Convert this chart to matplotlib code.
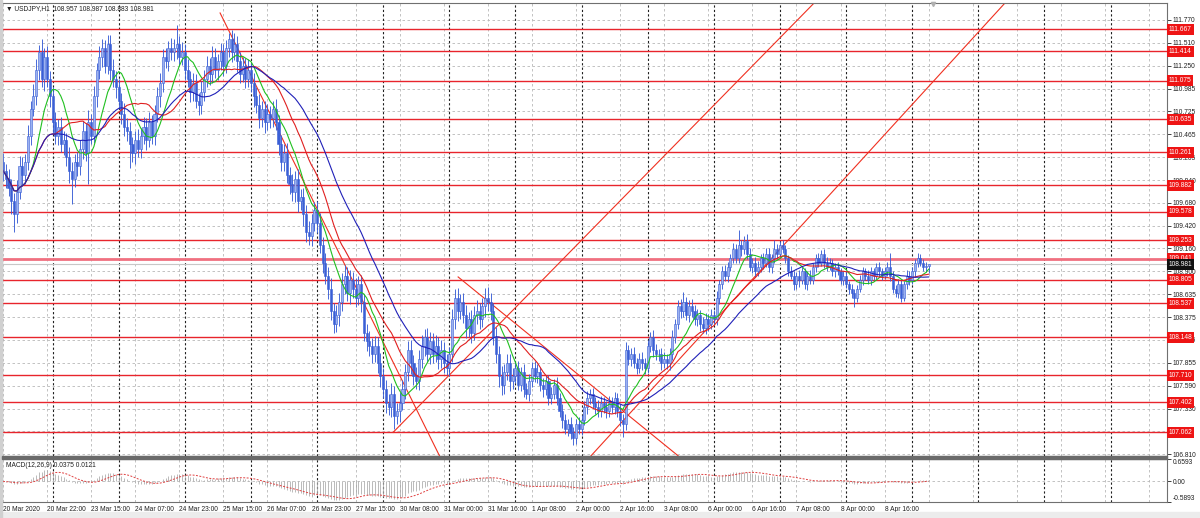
import numpy as np
import pandas as pd
import matplotlib
matplotlib.use("Agg")
import matplotlib.pyplot as plt

plt.rcParams['font.family'] = ['Liberation Sans', 'DejaVu Sans']

# hourly closes, one list per trading day
closes_mar20 = [110.05, 109.95, 109.85, 109.70, 109.55, 109.80, 110.10, 110.00, 110.15,
                110.45, 110.75, 110.90, 111.20, 111.40, 111.10, 111.35, 111.10, 110.90]
closes_mar23 = [110.60, 110.45, 110.55, 110.35, 110.40, 110.20, 110.05, 109.95, 110.15, 110.10,
                110.30, 110.50, 110.25, 110.60, 110.45, 110.90, 111.20, 111.35,
                111.45, 111.25, 111.50, 111.20, 111.10, 111.00]
closes_mar24 = [110.85, 110.70, 110.55, 110.50, 110.35, 110.25, 110.40, 110.30, 110.45,
                110.55, 110.40, 110.60, 110.45, 110.70, 110.90, 111.05, 111.35, 111.30, 111.45,
                111.40, 111.45, 111.50, 111.35, 111.40]
closes_mar25 = [111.20, 111.10, 110.95, 111.05, 110.85, 110.80, 110.95, 111.10, 111.25, 111.15,
                111.35, 111.20, 111.30, 111.40, 111.25, 111.45, 111.55, 111.40, 111.50,
                111.30, 111.15, 111.25, 111.10, 111.20]
closes_mar26 = [111.05, 110.90, 110.80, 110.65, 110.75, 110.60, 110.70, 110.65, 110.75, 110.60,
                110.35, 110.15, 110.25, 110.00, 109.90, 109.80, 109.95, 109.70, 109.75,
                109.55, 109.35, 109.30, 109.45, 109.60]
closes_mar27 = [109.45, 109.20, 109.00, 108.85, 108.70, 108.45, 108.30, 108.40, 108.55,
                108.75, 108.85, 108.65, 108.80, 108.70, 108.60, 108.75, 108.55,
                108.20, 108.10, 108.05, 107.95, 108.05, 107.85, 107.70]
closes_mar30 = [107.55, 107.40, 107.35, 107.50, 107.25, 107.30, 107.40, 107.55, 107.75, 108.00,
                107.85, 107.70, 107.65, 107.90, 108.05, 108.15, 107.95, 108.10,
                107.95, 108.05, 107.90, 108.00, 107.85, 107.80]
closes_mar31 = [107.95, 108.35, 108.60, 108.45, 108.55, 108.40, 108.25, 108.35, 108.20, 108.40,
                108.45, 108.35, 108.50, 108.60, 108.55, 108.45, 108.15, 107.95,
                107.70, 107.60, 107.75, 107.85, 107.65, 107.70]
closes_apr01 = [107.80, 107.60, 107.75, 107.55, 107.50, 107.65, 107.80, 107.70, 107.75,
                107.60, 107.55, 107.65, 107.45, 107.50, 107.60, 107.45, 107.30, 107.20,
                107.10, 107.15, 107.05, 107.00, 107.15, 107.10]
closes_apr02 = [107.20, 107.35, 107.45, 107.50, 107.40, 107.35, 107.30, 107.40, 107.35, 107.30,
                107.40, 107.35, 107.45, 107.30, 107.20, 107.15, 108.00,
                107.90, 107.95, 107.85, 107.80, 107.90, 107.85, 107.80]
closes_apr03 = [108.05, 108.15, 108.00, 107.95, 107.95, 107.85, 107.90, 107.85, 107.95,
                108.15, 108.30, 108.50, 108.45, 108.55, 108.40, 108.50, 108.45, 108.35,
                108.40, 108.30, 108.25, 108.35, 108.30, 108.40]
closes_apr06 = [108.35, 108.60, 108.75, 108.90, 108.85, 108.95, 109.05, 109.15, 109.05,
                109.20, 109.15, 109.25, 109.10, 108.95, 109.00, 108.90, 108.95,
                109.05, 109.00, 109.10, 108.95, 109.05, 109.15, 109.10]
closes_apr07 = [109.20, 109.15, 109.05, 108.90, 108.85, 108.75, 108.85, 108.80, 108.90, 108.75,
                108.85, 108.80, 108.95, 109.05, 109.00, 109.10, 109.00,
                108.95, 109.00, 108.90, 108.95, 108.90, 108.80, 108.85]
closes_apr08 = [108.75, 108.70, 108.65, 108.60, 108.70, 108.80, 108.90, 108.85, 108.80,
                108.90, 108.85, 108.95, 108.90, 108.85, 108.90, 108.95, 108.85,
                108.70, 108.65, 108.75, 108.60, 108.75, 108.85, 108.80]
closes_apr09 = [108.90, 109.00, 109.05, 109.00, 108.95, 108.957, 108.981]
first_open = 110.15

# upper / lower shadows in pips (0.01)
wick_up = ([10, 8, 12, 10, 9, 14, 12, 10, 9, 12, 10, 14, 12, 8, 15, 10, 12, 9] +
           [10, 12, 9, 11, 10, 8, 12, 10, 9, 11, 10, 12, 9, 14, 10, 12, 8, 12, 10, 9, 10, 10, 12, 9] +
           [10, 9, 12, 10, 11, 8, 10, 12, 9, 11, 10, 12, 9, 10, 11, 12, 9, 10, 8, 11, 10, 21, 9, 12] +
           [10, 12, 9, 11, 10, 9, 12, 10, 11, 9, 12, 10, 8, 11, 10, 9, 7, 10, 12, 9, 11, 10, 9, 12] +
           [9, 11, 10, 12, 9, 10, 11, 9, 10, 12, 9, 11, 10, 12, 9, 11, 10, 12, 9, 10, 11, 12, 10, 9] +
           [10, 12, 9, 11, 10, 12, 9, 11, 10, 13, 12, 10, 11, 9, 12, 10, 11, 9, 10, 12, 9, 11, 10, 12] +
           [9, 11, 10, 12, 9, 10, 12, 11, 9, 10, 12, 9, 11, 10, 12, 9, 10, 11, 9, 12, 10, 11, 9, 10] +
           [9, 12, 10, 11, 9, 10, 12, 9, 11, 10, 12, 9, 10, 11, 12, 10, 9, 11, 10, 12, 9, 10, 11, 9] +
           [7, 8, 6, 9, 7, 8, 6, 7, 9, 6, 8, 7, 6, 8, 7, 9, 6, 8, 7, 6, 8, 7, 6, 8] +
           [6, 7, 8, 6, 7, 6, 8, 7, 6, 7, 8, 6, 7, 6, 8, 7, 9, 6, 7, 8, 6, 7, 8, 6] +
           [7, 6, 8, 7, 6, 7, 8, 6, 7, 8, 6, 7, 8, 11, 6, 7, 8, 6, 7, 6, 8, 7, 6, 7] +
           [6, 7, 5, 6, 7, 6, 5, 7, 6, 17, 6, 5, 7, 6, 5, 6, 7, 5, 6, 7, 6, 5, 11, 6] +
           [5, 6, 5, 4, 6, 5, 4, 6, 5, 4, 5, 6, 4, 5, 6, 4, 5, 6, 5, 4, 5, 6, 4, 5] +
           [5, 4, 6, 5, 4, 6, 5, 4, 6, 5, 4, 5, 6, 4, 5, 6, 16, 5, 4, 6, 5, 4, 6, 5] +
           [5, 4, 6, 5, 4, 5, 0.6])
wick_dn = ([12, 10, 9, 15, 20, 10, 8, 12, 10, 9, 11, 8, 10, 12, 9, 14, 10, 12] +
           [12, 10, 11, 9, 12, 10, 14, 28, 9, 11, 10, 12, 9, 35, 10, 9, 12, 10, 12, 8, 10, 11, 9, 12] +
           [9, 12, 10, 11, 27, 10, 12, 9, 11, 10, 12, 8, 10, 11, 9, 12, 10, 8, 11, 9, 10, 12, 10, 9] +
           [11, 9, 12, 10, 9, 12, 10, 11, 9, 12, 10, 9, 11, 10, 12, 9, 10, 11, 9, 12, 10, 9, 11, 10] +
           [10, 12, 9, 11, 10, 12, 9, 11, 10, 9, 12, 10, 11, 9, 12, 10, 11, 12, 10, 13, 12, 10, 11, 9] +
           [11, 9, 12, 10, 12, 11, 10, 9, 12, 10, 11, 9, 12, 10, 11, 9, 12, 10, 11, 12, 10, 9, 11, 12] +
           [10, 12, 9, 11, 15, 10, 12, 9, 11, 10, 12, 10, 9, 11, 10, 12, 9, 11, 10, 9, 12, 10, 11, 9] +
           [10, 9, 11, 12, 10, 9, 11, 10, 12, 9, 10, 11, 9, 12, 10, 11, 9, 10, 12, 11, 10, 9, 12, 10] +
           [8, 6, 7, 9, 6, 8, 7, 6, 8, 7, 9, 6, 8, 7, 6, 8, 7, 9, 6, 8, 7, 8, 7, 6] +
           [7, 6, 8, 7, 6, 8, 7, 6, 7, 8, 6, 7, 8, 6, 7, 14, 6, 7, 8, 6, 7, 6, 8, 7] +
           [6, 7, 8, 6, 7, 8, 6, 7, 8, 6, 7, 6, 8, 7, 6, 8, 7, 6, 7, 8, 6, 7, 8, 6] +
           [5, 6, 7, 5, 6, 7, 5, 6, 5, 6, 7, 5, 6, 5, 7, 6, 5, 6, 7, 5, 6, 7, 5, 6] +
           [5, 4, 6, 5, 4, 6, 5, 8, 4, 5, 6, 4, 5, 6, 5, 4, 6, 5, 4, 5, 6, 4, 5, 6] +
           [4, 6, 5, 11, 5, 4, 6, 5, 4, 6, 5, 4, 6, 5, 4, 5, 6, 5, 4, 6, 5, 4, 5, 6] +
           [4, 6, 5, 4, 5, 6, 7.4])

levels = [111.667, 111.414, 111.075, 110.635, 110.261, 109.882, 109.578, 109.253,
          109.041, 108.805, 108.537, 108.148, 107.710, 107.402, 107.062]
last_price = 108.981

price_ticks = [111.770, 111.510, 111.250, 110.985, 110.725, 110.465, 110.205, 109.940,
               109.680, 109.420, 109.160, 108.900, 108.635, 108.375, 108.115, 107.855,
               107.590, 107.330, 107.070, 106.810]
hidden_ticks = [107.070]   # covered by the 107.062 label in the terminal

time_labels = ["20 Mar 2020", "20 Mar 22:00", "23 Mar 15:00", "24 Mar 07:00", "24 Mar 23:00",
               "25 Mar 15:00", "26 Mar 07:00", "26 Mar 23:00", "27 Mar 15:00", "30 Mar 08:00",
               "31 Mar 00:00", "31 Mar 16:00", "1 Apr 08:00", "2 Apr 00:00", "2 Apr 16:00",
               "3 Apr 08:00", "6 Apr 00:00", "6 Apr 16:00", "7 Apr 08:00", "8 Apr 00:00",
               "8 Apr 16:00"]

# trend lines: (bar, price) start and end
trend_lines = [((78.8, 111.85), (175, 105.74)),
               ((141.6, 107.06), (320, 112.785)),
               ((200, 106.33), (380, 112.525)),
               ((165.2, 108.835), (260, 106.41))]

close = np.array(closes_mar20 + closes_mar23 + closes_mar24 + closes_mar25 + closes_mar26 +
                 closes_mar27 + closes_mar30 + closes_mar31 + closes_apr01 + closes_apr02 +
                 closes_apr03 + closes_apr06 + closes_apr07 + closes_apr08 + closes_apr09)
opn = np.r_[first_open, close[:-1]]
high = np.maximum(opn, close) + np.array(wick_up) / 100
low = np.minimum(opn, close) - np.array(wick_dn) / 100
x = np.arange(len(close))

s = pd.Series(close)
ma_fast = s.rolling(10, min_periods=1).mean()
ma_mid = s.rolling(20, min_periods=1).mean()
ma_slow = s.rolling(34, min_periods=1).mean()
macd = s.ewm(span=12, adjust=False).mean() - s.ewm(span=26, adjust=False).mean()
signal = macd.rolling(9, min_periods=1).mean()

W, H = 1200, 518
fig = plt.figure(figsize=(12, 5.18), dpi=100)
fig.patch.set_facecolor('white')

x0, x1 = (2 - 3) / 2.755, (1167 - 3) / 2.755
ax = fig.add_axes([2 / W, 1 - 456 / H, 1165 / W, 453 / H])
ax2 = fig.add_axes([2 / W, 1 - 502 / H, 1165 / W, 43.5 / H])

grid_c = '#b8b8b8'
for a in (ax, ax2):
    a.set_xlim(x0, x1)
    for g in np.arange(0, 430, 16):
        a.axvline(g, color=grid_c, lw=0.6, ls=(0, (3, 3)), zorder=0)
    for d in np.arange(18, 430, 24):
        a.axvline(d, color='#202020', lw=0.8, ls=(0, (2, 2)), zorder=0.5)
    for sp in a.spines.values():
        sp.set_color('#707070')
        sp.set_linewidth(0.8)
    a.set_facecolor('white')

ax.set_ylim(106.790, 111.964)
for p in price_ticks:
    ax.axhline(p, color=grid_c, lw=0.6, ls=(0, (3, 3)), zorder=0)

for lv in levels:
    if lv == 109.041:
        ax.axhline(lv, color='#f07080', lw=2.0, zorder=1)
    else:
        ax.axhline(lv, color='#e8242c', lw=1.0, zorder=1)
ax.axhline(last_price, color='#c8c8c8', lw=0.8, zorder=1)

for (xa, ya), (xb, yb) in trend_lines:
    ax.plot([xa, xb], [ya, yb], color='#f03020', lw=0.8, zorder=2)

ax.plot(x, ma_fast, color='#20c020', lw=0.8, zorder=4)
ax.plot(x, ma_mid, color='#e02020', lw=0.8, zorder=4)
ax.plot(x, ma_slow, color='#2020b8', lw=0.8, zorder=4)

bull = close >= opn
ax.vlines(x, low, high, color='#3a5fd6', lw=0.65, zorder=3)
ax.bar(x, np.maximum(np.abs(close - opn), 0.006), bottom=np.minimum(opn, close), width=0.75,
       color=np.where(bull, '#9cb2f0', '#3a5fd6'), edgecolor='#3a5fd6', linewidth=0.4, zorder=3)

# chart shift marker at the top
ax.plot([337.5], [111.95], marker='v', ms=3, color='#b0b0b0', clip_on=False, zorder=6)

ax.yaxis.tick_right()
ax.set_yticks(price_ticks)
ax.set_yticklabels(["" if p in hidden_ticks else f"{p:.3f}" for p in price_ticks])
ax.tick_params(axis='y', length=3, width=0.6, pad=1, labelsize=4.8, colors='#202020')
ax.set_xticks([])

ytr = ax.get_yaxis_transform()
for lv in levels:
    ax.text(1.0015, lv, f"{lv:.3f}", transform=ytr, color='white', fontsize=4.8,
            va='center', ha='left', zorder=10, clip_on=False,
            bbox=dict(boxstyle='square,pad=0.3', fc='#ee1414', ec='none'))
ax.text(1.0015, last_price, f"{last_price:.3f}", transform=ytr, color='white', fontsize=4.8,
        va='center', ha='left', zorder=11, clip_on=False,
        bbox=dict(boxstyle='square,pad=0.3', fc='#101010', ec='none'))

# MACD panel
ax2.set_ylim(-0.5893, 0.6593)
ax2.axhline(0, color=grid_c, lw=0.6, ls=(0, (3, 3)), zorder=0)
ax2.vlines(x, 0, macd, color='#a8a8a8', lw=0.55, zorder=2)
ax2.plot(x, signal, color='#e04040', lw=0.7, ls=(0, (2, 1.5)), zorder=3)
ax2.yaxis.tick_right()
ax2.set_yticks([0.6593, 0.0, -0.5893])
ax2.set_yticklabels(["0.6593", "0.00", "-0.5893"])
ax2.tick_params(axis='y', length=3, width=0.6, pad=1, labelsize=4.8, colors='#202020')
tl = ax2.get_yticklabels()
tl[0].set_va('top')
tl[2].set_va('bottom')
ax2.set_xticks(np.arange(0, 16 * len(time_labels), 16))
ax2.set_xticklabels(time_labels, ha='left')
ax2.tick_params(axis='x', length=0, pad=3, labelsize=4.8, colors='#202020')
ax2.text(4 / 1165, 0.85, "MACD(12,26,9) 0.0375 0.0121", transform=ax2.transAxes,
         fontsize=4.8, color='#202020', va='center', ha='left')

fig.text(6 / W, 1 - 9 / H, "\u25bc USDJPY,H1  108.957 108.987 108.883 108.981",
         fontsize=4.8, color='#202020', va='center', ha='left')

# panel separator and window borders
fig.patches.append(plt.Rectangle((2 / W, 1 - 458.5 / H), 1165 / W, 2.5 / H,
                                 transform=fig.transFigure, color='#6a6a6a', zorder=5))
fig.patches.append(plt.Rectangle((0, 0), 1, 6 / H, transform=fig.transFigure,
                                 color='#ececec', zorder=0))
fig.patches.append(plt.Rectangle((0, 0), 2 / W, 1, transform=fig.transFigure,
                                 color='#d0d0d0', zorder=0))

fig.savefig("out.png", dpi=100, facecolor=fig.get_facecolor())
